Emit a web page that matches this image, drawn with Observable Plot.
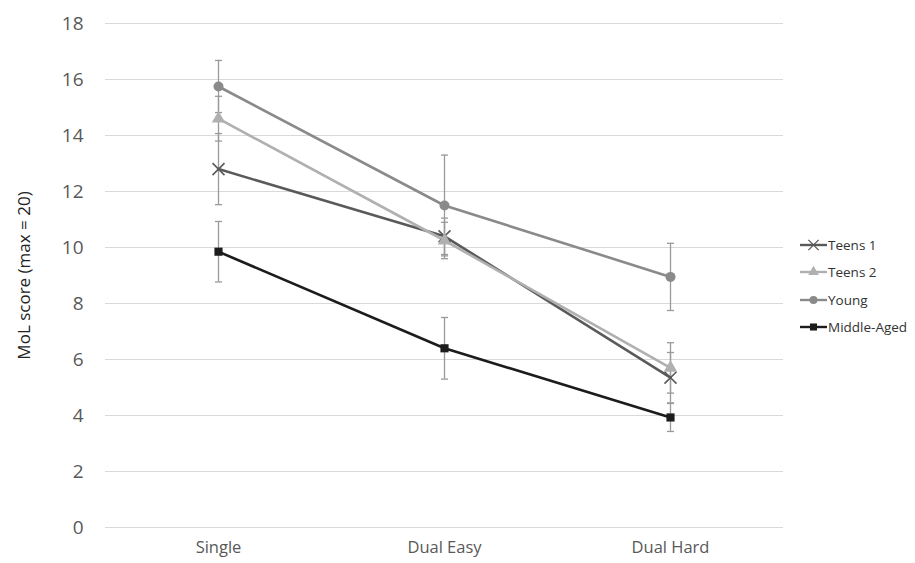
<!DOCTYPE html>
<html><head><meta charset="utf-8">
<script src="https://cdn.jsdelivr.net/npm/d3@7"></script>
<script src="https://cdn.jsdelivr.net/npm/@observablehq/plot@0.6"></script>
<style>
body{margin:0;background:#fff;font-family:"Open Sans",Lato,sans-serif;}
#wrap{position:relative;width:915px;height:563px;}
#legend{position:absolute;left:800px;top:231px;font-size:13.5px;color:#333;white-space:nowrap;}
#legend div{display:flex;align-items:center;height:27.5px;}
#legend svg{margin-right:0px;}
</style></head>
<body><div id="wrap"><div id="legend"></div></div>
<script>
const categories = ["Single", "Dual Easy", "Dual Hard"];
const seriesNames = ["Teens 1", "Teens 2", "Young", "Middle-Aged"];
const teens1 = [12.8, 10.4, 5.35];
const teens1Err = [1.27, 0.65, 0.9];
const teens2 = [14.6, 10.25, 5.7];
const teens2Err = [0.8, 0.65, 0.9];
const young = [15.75, 11.5, 8.95];
const youngErr = [0.93, 1.8, 1.2];
const middleAged = [9.85, 6.4, 3.93];
const middleAgedErr = [1.08, 1.1, 0.5];
const yTicks = [0, 2, 4, 6, 8, 10, 12, 14, 16, 18];

const values = [teens1, teens2, young, middleAged];
const errs = [teens1Err, teens2Err, youngErr, middleAgedErr];
const data = [];
seriesNames.forEach((s, i) => categories.forEach((c, j) => data.push({series: s, cat: c, v: values[i][j], e: errs[i][j]})));

const colors = ["#5a5a5a", "#b0b0b0", "#8a8a8a", "#1c1c1c"];
const symbols = ["times", "triangle", "circle", "square"];
const sizes = [5.5, 5, 5, 4.6];

const capSymbol = {draw(ctx, size) { const w = Math.sqrt(size); ctx.moveTo(-w / 2, 0); ctx.lineTo(w / 2, 0); }};

const marks = [
  Plot.gridY(yTicks, {stroke: "#d9d9d9", strokeOpacity: 1, strokeWidth: 1}),
  Plot.ruleX(data, {x: "cat", y1: d => d.v - d.e, y2: d => d.v + d.e, stroke: "#9a9a9a", strokeWidth: 1.3}),
  Plot.dot(data, {x: "cat", y: d => d.v - d.e, symbol: capSymbol, r: 4, stroke: "#9a9a9a", strokeWidth: 1.3}),
  Plot.dot(data, {x: "cat", y: d => d.v + d.e, symbol: capSymbol, r: 4, stroke: "#9a9a9a", strokeWidth: 1.3})
];
seriesNames.forEach((s, i) => {
  const sub = data.filter(d => d.series === s);
  marks.push(Plot.line(sub, {x: "cat", y: "v", stroke: colors[i], strokeWidth: 2.6}));
});
seriesNames.forEach((s, i) => {
  const sub = data.filter(d => d.series === s);
  const isTimes = symbols[i] === "times";
  marks.push(Plot.dot(sub, {x: "cat", y: "v", symbol: symbols[i], r: sizes[i],
    fill: isTimes ? "none" : colors[i], stroke: colors[i], strokeWidth: isTimes ? 1.6 : 0}));
});
marks.push(
  Plot.axisY(yTicks, {tickSize: 0, tickPadding: 22, fontSize: 19, fill: "#595959", label: null}),
  Plot.axisX({tickSize: 0, tickPadding: 14, fontSize: 16.5, fill: "#595959", label: null}),
  Plot.text(["MoL score (max = 20)"], {frameAnchor: "left", textAnchor: "middle", dx: -81, rotate: -90, fontSize: 17, fill: "#222"})
);

const chart = Plot.plot({
  width: 915, height: 563,
  marginLeft: 105, marginRight: 132, marginTop: 23, marginBottom: 36,
  style: {fontFamily: "'Open Sans', Lato, sans-serif", background: "#fff"},
  x: {type: "point", domain: categories, padding: 0.5},
  y: {domain: [0, 18]},
  marks
});
document.getElementById("wrap").prepend(chart);

const legend = document.getElementById("legend");
seriesNames.forEach((s, i) => {
  const row = document.createElement("div");
  const svg = d3.create("svg").attr("width", 28).attr("height", 14);
  svg.append("line").attr("x1", 0).attr("x2", 27).attr("y1", 7).attr("y2", 7).attr("stroke", colors[i]).attr("stroke-width", 2.4);
  const sym = {times: d3.symbolTimes, triangle: d3.symbolTriangle, circle: d3.symbolCircle, square: d3.symbolSquare}[symbols[i]];
  const p = svg.append("path").attr("transform", "translate(13.5,7)").attr("d", d3.symbol(sym, symbols[i] === "times" ? 70 : 50)());
  if (symbols[i] === "times") p.attr("fill", "none").attr("stroke", colors[i]).attr("stroke-width", 1.3);
  else p.attr("fill", colors[i]);
  row.appendChild(svg.node());
  const t = document.createElement("span");
  t.textContent = s;
  row.appendChild(t);
  legend.appendChild(row);
});
</script></body></html>
